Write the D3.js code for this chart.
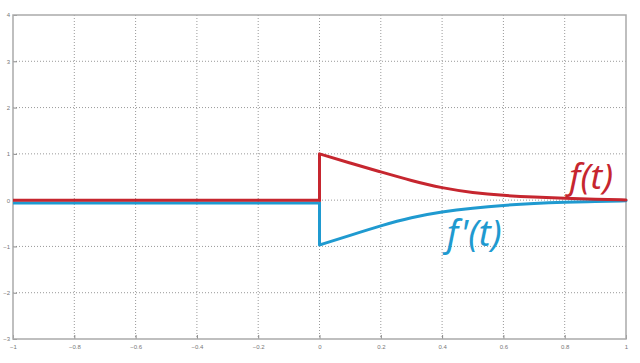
<!DOCTYPE html>
<html>
<head>
<meta charset="utf-8">
<script src="https://cdn.jsdelivr.net/npm/d3@7"></script>
<style>
  body { margin: 0; background: #fff; }
  .tick text { font-family: "Liberation Sans", Arial, sans-serif; font-size: 6px; fill: #777; }
</style>
</head>
<body>
<svg width="640" height="363"></svg>
<script>
const tVals  = [-1, 0, 0, 0.1, 0.2, 0.3, 0.4, 0.5, 0.6, 0.7, 0.8, 0.9, 1.0];
const fVals  = [0, 0, 1.0, 0.80, 0.61, 0.42, 0.26, 0.16, 0.10, 0.065, 0.04, 0.02, 0.005];
const dfVals = [-0.06, -0.06, -0.97, -0.76, -0.55, -0.37, -0.25, -0.17, -0.11, -0.07, -0.045, -0.03, -0.015];

const xTicks = [-1, -0.8, -0.6, -0.4, -0.2, 0, 0.2, 0.4, 0.6, 0.8, 1];
const yTicks = [-3, -2, -1, 0, 1, 2, 3, 4];

const svg = d3.select('svg');
const margens = { left: 13, right: 14, top: 15, bottom: 24 };
const width = 640, height = 363;
const innerWidth = width - margens.left - margens.right;
const innerHeight = height - margens.top - margens.bottom;

const mapX = d3.scaleLinear().domain([-1, 1]).range([0, innerWidth]);
const mapY = d3.scaleLinear().domain([-3, 4]).range([innerHeight, 0]);

const g = svg.append('g')
  .attr('transform', `translate(${margens.left}, ${margens.top})`);

// ---- grade pontilhada
g.append('g').selectAll('line')
  .data(xTicks.slice(1, -1))
  .join('line')
  .attr('x1', d => mapX(d)).attr('x2', d => mapX(d))
  .attr('y1', 0).attr('y2', innerHeight)
  .attr('stroke', '#999').attr('stroke-width', 1)
  .attr('stroke-dasharray', '1,2');

g.append('g').selectAll('line')
  .data(yTicks.slice(1, -1))
  .join('line')
  .attr('x1', 0).attr('x2', innerWidth)
  .attr('y1', d => mapY(d)).attr('y2', d => mapY(d))
  .attr('stroke', '#999').attr('stroke-width', 1)
  .attr('stroke-dasharray', '1,2');

// ---- eixos
const eixoX = d3.axisBottom(mapX).tickValues(xTicks).tickSize(-4).tickPadding(6)
  .tickFormat(d3.format('~g'));
g.append('g')
  .attr('transform', `translate(0, ${innerHeight})`)
  .call(eixoX)
  .call(s => s.select('.domain').remove())
  .call(s => s.selectAll('.tick line').attr('stroke', '#888'));

const eixoY = d3.axisLeft(mapY).tickValues(yTicks).tickSize(-4).tickPadding(3)
  .tickFormat(d3.format('d'));
g.append('g')
  .call(eixoY)
  .call(s => s.select('.domain').remove())
  .call(s => s.selectAll('.tick line').attr('stroke', '#888'));

// moldura
g.append('rect')
  .attr('x', 0).attr('y', 0)
  .attr('width', innerWidth).attr('height', innerHeight)
  .attr('fill', 'none')
  .attr('stroke', '#aaa')
  .attr('stroke-width', 1.5);

// ---- curvas
const pts = (vals) => tVals.map((t, i) => [t, vals[i]]);
const lineStep = d3.line().x(d => mapX(d[0])).y(d => mapY(d[1]));
const lineDecay = d3.line().x(d => mapX(d[0])).y(d => mapY(d[1])).curve(d3.curveBasis);

function drawSeries(vals, color) {
  const p = pts(vals);
  g.append('path')
    .attr('d', lineStep(p.slice(0, 3)))
    .attr('fill', 'none').attr('stroke', color)
    .attr('stroke-width', 3).attr('stroke-linejoin', 'miter');
  g.append('path')
    .attr('d', lineDecay(p.slice(2)))
    .attr('fill', 'none').attr('stroke', color)
    .attr('stroke-width', 3).attr('stroke-linecap', 'round');
}

drawSeries(dfVals, '#1f9ad0');
drawSeries(fVals, '#c6262f');

// ---- rótulos
g.append('text')
  .attr('x', mapX(0.815)).attr('y', mapY(0.25))
  .attr('font-family', '"Noto Sans", "Open Sans", sans-serif')
  .attr('font-style', 'italic')
  .attr('font-size', 35)
  .attr('fill', '#c6262f')
  .text('f(t)');

g.append('text')
  .attr('x', mapX(0.415)).attr('y', mapY(-0.98))
  .attr('font-family', '"Noto Sans", "Open Sans", sans-serif')
  .attr('font-style', 'italic')
  .attr('font-size', 36)
  .attr('fill', '#1f9ad0')
  .text("f'(t)");
</script>
</body>
</html>
